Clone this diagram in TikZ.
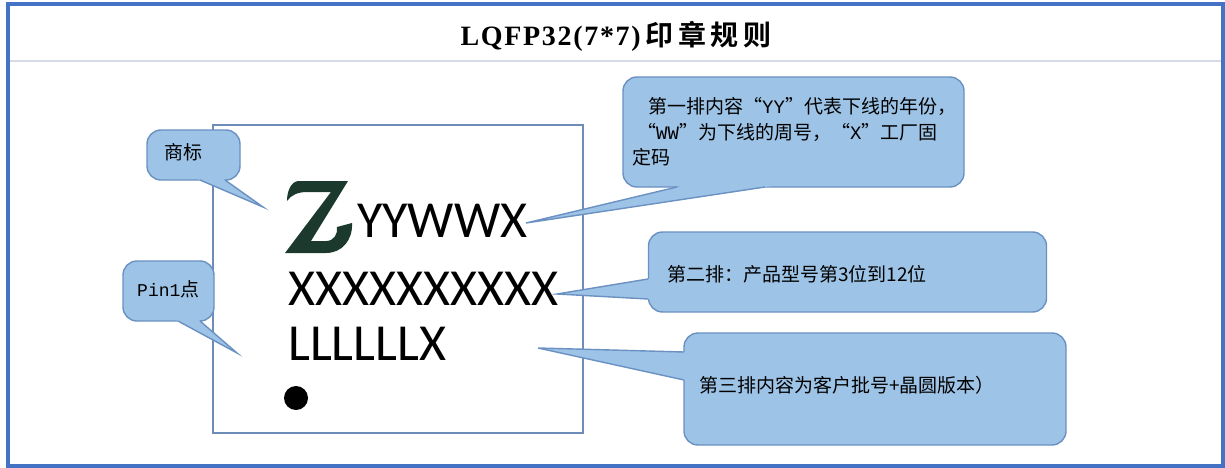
\documentclass[tikz,border=0pt]{standalone}
\usepackage{fontspec}
\usetikzlibrary{calc}
\newfontfamily\cjk{Noto Sans CJK SC}
\newfontfamily\cjkb{Noto Sans CJK SC Bold}
\newfontfamily\mono{Liberation Mono}
\newfontfamily\titleserif[LetterSpace=6]{Liberation Serif}
\newfontfamily\chipfont{Carlito}
\definecolor{frameblue}{HTML}{4472C4}
\definecolor{sepgray}{HTML}{D6DCE5}
\definecolor{cfill}{HTML}{9DC3E6}
\definecolor{cline}{HTML}{6A91C2}
\definecolor{chipline}{HTML}{6D8DB8}
\definecolor{zgreen}{HTML}{1B3A2D}
\tikzset{
  calloutbox/.style={draw=cline, fill=cfill, line width=1.4pt, rounded corners=14pt, inner sep=0pt},
  ptrfill/.style={fill=cfill},
  ptrline/.style={draw=cline, line width=1.4pt, line join=miter},
  ctext/.style={anchor=west, inner sep=0pt, font=\cjk\fontsize{19}{25}\selectfont},
  chiptext/.style={anchor=base west, inner sep=0pt, font=\chipfont\fontsize{52}{60}\selectfont},
}
\begin{document}
\begin{tikzpicture}[x=1pt,y=-1pt]
\useasboundingbox (0,0) rectangle (1225,468);
\fill[white] (0,0) rectangle (1225,468);
% outer frame and title separator
\draw[sepgray, line width=2.5pt] (8,61) -- (1223,61);
\draw[frameblue, line width=4pt] (8,4) rectangle (1223,466);
\node[inner sep=0pt] (title) at (616,36)
  {\fontsize{28}{30}\selectfont{\titleserif\bfseries LQFP32(7*7)}\,{\cjkb 印\,章\,规\,则}};

% chip outline
\node[draw=chipline, line width=1.2pt, minimum width=370pt, minimum height=308pt, inner sep=0pt] (chip) at (398,279) {};

% Z logo
\fill[zgreen] (298,181) -- (348,181) -- (311,241) -- (326,241)
  .. controls (334,241) and (338,234) .. (337,227) -- (352,223)
  .. controls (353,240) and (342,253) .. (326,253) -- (285,253)
  -- (331,192) -- (307,192)
  .. controls (298,192) and (291,195) .. (287,201)
  .. controls (287,191) and (291,182) .. (298,181) -- cycle;

% chip marking
\node[chiptext] (row1) at (357,237) {YYWWX};
\node[chiptext] (row2) at (288,305) {XXXXXXXXXX};
\node[chiptext] (row3) at (288,360) {LLLLLLX};
\fill[black] (296,398) circle (12pt) node (pin1dot) {};

% callout boxes
\node[calloutbox, minimum width=93pt, minimum height=50pt] (c1) at (193.5,155) {};
\node[calloutbox, minimum width=91pt, minimum height=60pt] (c2) at (168.5,291) {};
\node[calloutbox, minimum width=341pt, minimum height=110pt] (c3) at (793.5,132) {};
\node[calloutbox, minimum width=398pt, minimum height=80pt] (c4) at (847.5,272) {};
\node[calloutbox, minimum width=382pt, minimum height=112pt] (c5) at (875,389) {};

% pointer coordinates
\coordinate (c1a) at (200,180); \coordinate (c1b) at (225,180); \coordinate (t1) at (263,207);
\coordinate (c2a) at (178,321); \coordinate (c2b) at (200,321); \coordinate (t2) at (237,353);
\coordinate (c3a) at (677,187); \coordinate (c3b) at (765,187); \coordinate (t3) at (526,223);
\coordinate (c4a) at (648,279); \coordinate (c4b) at (648,299); \coordinate (t4) at (557,294);
\coordinate (c5a) at (684,352); \coordinate (c5b) at (684,380); \coordinate (t5) at (538,348);

\foreach \a/\b/\t in {c1a/c1b/t1, c2a/c2b/t2, c3a/c3b/t3, c4a/c4b/t4, c5a/c5b/t5}{
  \fill[ptrfill] ($(\a)!-0.12!(\t)$) -- (\t) -- ($(\b)!-0.12!(\t)$) -- cycle;
  \draw[ptrline] (\a) -- (\t) -- (\b);
}

% callout texts
\node[ctext] (c1t) at (164,152) {商标};
\node[ctext] (c2t) at (137,289) {{\mono\fontsize{18}{25}\selectfont Pin1}点};
\node[ctext] (c3l1) at (648,106) {第一排内容“{\mono YY}”代表下线的年份，};
\node[ctext] (c3l2) at (637,132) {“{\mono WW}”为下线的周号，“{\mono X}”工厂固};
\node[ctext] (c3l3) at (632,157) {定码};
\node[ctext] (c4t) at (667,274) {第二排：产品型号第3位到12位};
\node[ctext] (c5t) at (699,385) {第三排内容为客户批号+晶圆版本）};
\end{tikzpicture}
\end{document}
